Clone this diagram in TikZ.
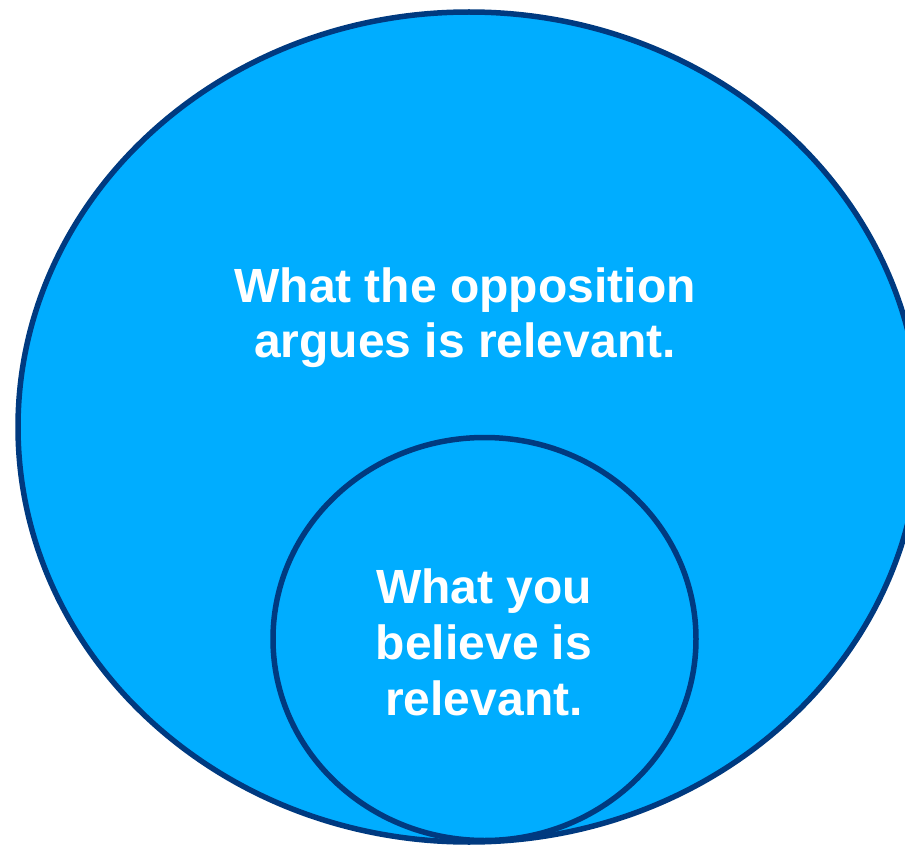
\documentclass[tikz,border=0pt]{standalone}
\usepackage{fontspec}
\setmainfont{Liberation Sans}
\definecolor{discfill}{HTML}{00ADFF}
\definecolor{discline}{HTML}{003A80}
\begin{document}
\begin{tikzpicture}[x=1pt,y=-1pt,
  disc/.style={draw=discline, line width=5.5pt, fill=discfill},
  label/.style={text=white, font=\fontsize{48}{55}\selectfont\bfseries, align=center, inner sep=0pt}]
  \useasboundingbox (0,0) rectangle (905,845);
  \clip (0,0) rectangle (905,845);
  % outer region: what the opposition argues is relevant
  \draw[disc] (469,427) ellipse [x radius=451, y radius=415];
  % inner region: what you believe is relevant
  \draw[disc] (484.5,639) ellipse [x radius=211.5, y radius=201.5];
  % labels are placed by the baseline of their last line
  \node[label, anchor=base] (outer) at (465,357) {What the opposition\\argues is relevant.};
  \node[label, anchor=base, font=\fontsize{48}{56}\selectfont\bfseries] (inner) at (484,715) {What you\\believe is\\relevant.};
\end{tikzpicture}
\end{document}
